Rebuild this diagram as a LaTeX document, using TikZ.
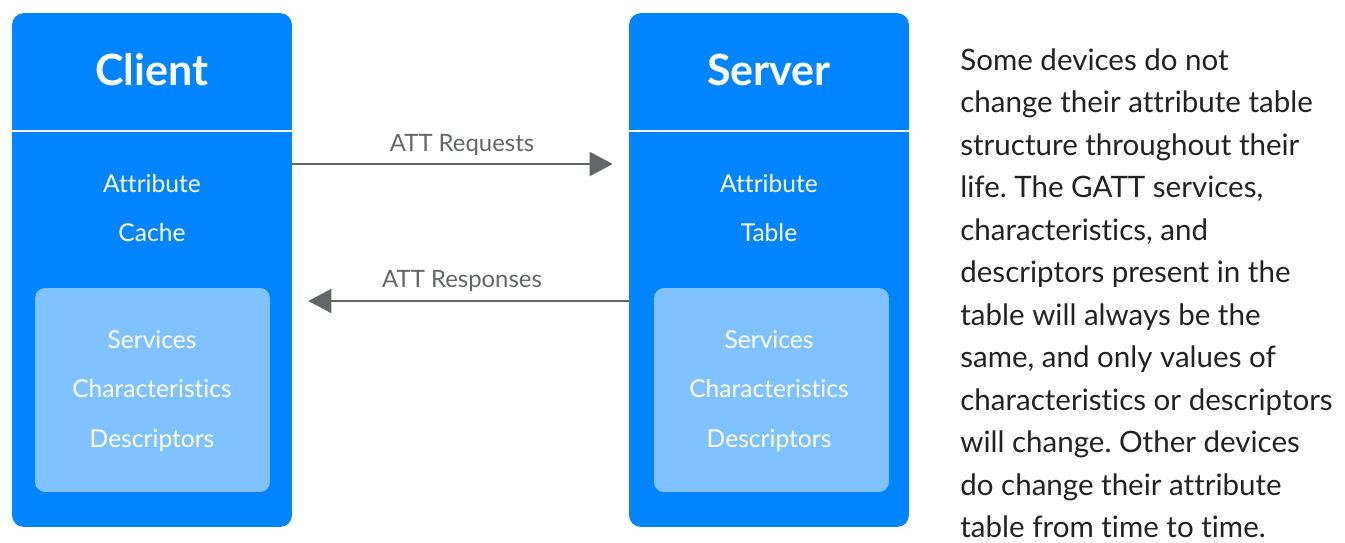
\documentclass[tikz,border=0pt]{standalone}
\usepackage{fontspec}
\setmainfont{Lato}[Ligatures=NoCommon]
\usepackage{tikz}
\usetikzlibrary{arrows.meta}
\usetikzlibrary{positioning}
\frenchspacing

\definecolor{gattblue}{RGB}{0,132,255}
\definecolor{gattlight}{RGB}{128,193,255}
\definecolor{arrowgray}{RGB}{99,101,105}
\definecolor{notegray}{RGB}{34,34,34}

\begin{document}
\begin{tikzpicture}[x=0.02cm, y=-0.02cm,
    devbox/.style={fill=gattblue, rounded corners=0.24cm, minimum width=5.6cm, minimum height=10.28cm, inner sep=0pt},
    tablebox/.style={fill=gattlight, rounded corners=0.2cm, minimum width=4.7cm, minimum height=4.08cm, inner sep=0pt},
    devtitle/.style={anchor=base, text=white, font=\fontsize{24.5}{28}\selectfont\bfseries},
    devtext/.style={anchor=base, text=white, font=\fontsize{14}{16}\selectfont},
    msglabel/.style={anchor=base, text=arrowgray, font=\fontsize{13.6}{15}\selectfont},
    msg/.style={draw=arrowgray, line width=0.04cm, -{Triangle[length=0.46cm, width=0.48cm]}}]
    \useasboundingbox (0,0) rectangle (1345,542);

    % Client
    \node[devbox] (client) at (152,270) {};
    \draw[white, line width=0.04cm] (client.west |- 0,131) -- (client.east |- 0,131);
    \node[devtitle] (clienttitle) at (152,85) {Client};
    \node[devtext] (cacheA) at (152,192) {Attribute};
    \node[devtext] (cacheB) at (152,241) {Cache};
    \node[tablebox] (clienttable) at (152.5,390) {};
    \node[devtext] (clientsvc) at (152,348) {Services};
    \node[devtext] (clientchr) at (152,397) {Characteristics};
    \node[devtext] (clientdsc) at (152,447) {Descriptors};

    % Server
    \node[devbox] (server) at (769,270) {};
    \draw[white, line width=0.04cm] (server.west |- 0,131) -- (server.east |- 0,131);
    \node[devtitle] (servertitle) at (769,85) {Server};
    \node[devtext] (tableA) at (769,192) {Attribute};
    \node[devtext] (tableB) at (769,241) {Table};
    \node[tablebox] (servertable) at (771.5,390) {};
    \node[devtext] (serversvc) at (769,348) {Services};
    \node[devtext] (serverchr) at (769,397) {Characteristics};
    \node[devtext] (serverdsc) at (769,447) {Descriptors};

    % ATT Nachrichten
    \draw[msg, shorten >=0.32cm] ([yshift=2.12cm]client.east) -- ([yshift=2.12cm]server.west);
    \node[msglabel] (req) at (462,151) {ATT Requests};
    \draw[msg, shorten >=0.32cm] ([yshift=-0.62cm]server.west) -- ([yshift=-0.62cm]client.east);
    \node[msglabel] (resp) at (462,287) {ATT Responses};

    % Erklaerung
    \node[anchor=north west, inner sep=0pt, align=left, text=notegray,
          font=\fontsize{16.8}{24.2}\selectfont] (note) at (960,48) {Some devices do not\\
        change their attribute table\\
        structure throughout their\\
        life. The GATT services,\\
        characteristics, and\\
        descriptors present in the\\
        table will always be the\\
        same, and only values of\\
        characteristics or descriptors\\
        will change. Other devices\\
        do change their attribute\\
        table from time to time.};
\end{tikzpicture}
\end{document}
